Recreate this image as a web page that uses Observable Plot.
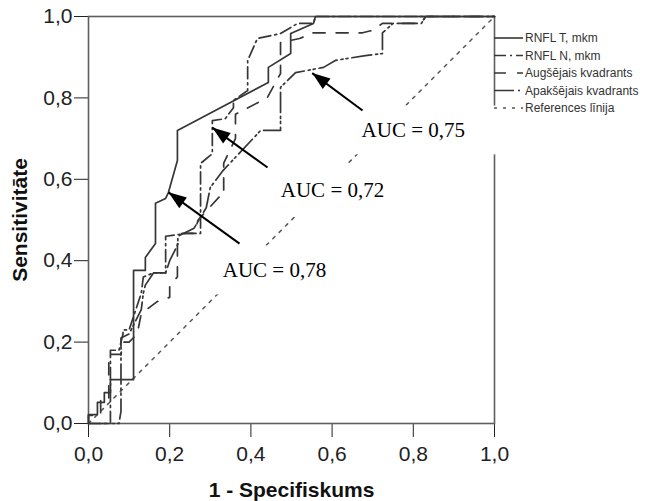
<!DOCTYPE html>
<html><head><meta charset="utf-8">
<script src="https://cdn.jsdelivr.net/npm/d3@7"></script>
<script src="https://cdn.jsdelivr.net/npm/@observablehq/plot@0.6"></script>
<style>
body{margin:0;background:#fff;}
#wrap{position:relative;width:656px;height:501px;}
#legend{position:absolute;left:0;top:0;pointer-events:none;}
</style></head><body><div id="wrap"></div>
<script>
// ---- data ----
const seriesNames = ["RNFL T, mkm", "RNFL N, mkm", "Augšējais kvadrants", "Apakšējais kvadrants", "References līnija"];

// [1 - specificity, sensitivity]
const rnflT = [[0,0],[0,0.022],[0.022,0.022],[0.022,0.052],[0.039,0.052],[0.039,0.076],[0.054,0.076],[0.054,0.108],[0.111,0.108],[0.111,0.376],[0.14,0.376],[0.14,0.408],[0.165,0.442],[0.165,0.541],[0.19,0.553],[0.197,0.568],[0.219,0.646],[0.219,0.72],[0.443,0.838],[0.443,0.875],[0.498,0.909],[0.498,0.958],[0.554,0.983],[0.559,1],[1,1]];
const rnflN = [[0,0],[0.054,0],[0.054,0.18],[0.075,0.18],[0.085,0.22],[0.085,0.23],[0.1,0.23],[0.13,0.32],[0.135,0.36],[0.16,0.37],[0.19,0.37],[0.19,0.46],[0.24,0.467],[0.276,0.467],[0.276,0.639],[0.305,0.663],[0.305,0.744],[0.337,0.749],[0.357,0.776],[0.357,0.794],[0.392,0.818],[0.392,0.892],[0.416,0.946],[0.473,0.958],[0.515,0.983],[0.554,0.983],[0.559,1],[1,1]];
const augs = [[0,0],[0,0.02],[0.03,0.02],[0.03,0.06],[0.05,0.06],[0.05,0.17],[0.08,0.17],[0.085,0.2],[0.1,0.2],[0.12,0.22],[0.13,0.27],[0.17,0.3],[0.2,0.31],[0.2,0.34],[0.219,0.36],[0.219,0.45],[0.23,0.467],[0.26,0.467],[0.27,0.5],[0.325,0.56],[0.333,0.56],[0.333,0.64],[0.362,0.7],[0.362,0.76],[0.44,0.8],[0.473,0.86],[0.473,0.936],[0.52,0.946],[0.554,0.96],[0.675,0.96],[0.7,0.966],[0.724,0.983],[0.82,0.983],[0.83,1],[1,1]];
const apaks = [[0,0],[0.075,0],[0.08,0.03],[0.08,0.21],[0.1,0.22],[0.13,0.28],[0.135,0.32],[0.14,0.34],[0.16,0.37],[0.19,0.37],[0.2,0.4],[0.22,0.44],[0.22,0.46],[0.26,0.48],[0.29,0.53],[0.3,0.58],[0.33,0.62],[0.424,0.72],[0.473,0.72],[0.473,0.826],[0.51,0.862],[0.579,0.875],[0.608,0.892],[0.682,0.904],[0.724,0.909],[0.724,0.96],[0.75,0.983],[0.82,0.983],[0.83,1],[1,1]];
const reference = [[0,0],[1,1]];

const xTicks = [0, 0.2, 0.4, 0.6, 0.8, 1.0];
const yTicks = [0, 0.2, 0.4, 0.6, 0.8, 1.0];
const xTitle = "1 - Specifiskums";
const yTitle = "Sensitivitāte";

const aucLabels = ["AUC = 0,78", "AUC = 0,72", "AUC = 0,75"];
const aucTextX = [0.458, 0.601, 0.80];
const aucTextY = [0.376, 0.572, 0.72];
const arrowFromX = [0.372, 0.441, 0.675];
const arrowFromY = [0.442, 0.629, 0.769];
const arrowToX = [0.197, 0.305, 0.551];
const arrowToY = [0.568, 0.727, 0.861];

// ---- layout ----
const W = 656, H = 501;
const mL = 88, mR = 162, mT = 16, mB = 78;
const pw = W - mL - mR, ph = H - mT - mB;

const lineColor = "#363636";
const styles = [
  {dash: null},
  {dash: "12,4,2,4"},
  {dash: "12,11"},
  {dash: "20,4,2,3,2,4"},
  {dash: "3,6"}
];
const series = [rnflT, rnflN, augs, apaks];

const idx = aucLabels.map((_, i) => i);
const boxL = -0.17, boxR = 0.22, boxH = 0.06;
const angles = idx.map(i => {
  const dx = (arrowToX[i] - arrowFromX[i]) * pw;
  const dy = -(arrowToY[i] - arrowFromY[i]) * ph;
  return Math.atan2(dx, -dy) * 180 / Math.PI;
});
const headSymbol = {draw(ctx) { ctx.moveTo(0, 0); ctx.lineTo(-6.5, 18); ctx.lineTo(6.5, 18); ctx.closePath(); }};

const fmt = d => d.toFixed(1).replace(".", ",");

const marks = [
  Plot.frame({stroke: "#5e5e5e", strokeWidth: 1.6}),
  Plot.line(reference, {x: d => d[0], y: d => d[1], stroke: "#555", strokeWidth: 1.5, strokeDasharray: styles[4].dash})
];
series.forEach((s, k) => {
  marks.push(Plot.line(s, {x: d => d[0], y: d => d[1], stroke: lineColor, strokeWidth: 1.7, strokeDasharray: styles[k].dash}));
});
marks.push(
  Plot.rect(idx, {x1: i => aucTextX[i] + boxL, x2: i => aucTextX[i] + boxR, y1: i => aucTextY[i] - boxH, y2: i => aucTextY[i] + boxH, fill: "white"}),
  Plot.text(idx, {x: i => aucTextX[i], y: i => aucTextY[i], text: i => aucLabels[i], fontFamily: "Liberation Serif, Times New Roman, serif", fontSize: 21, fill: "black"}),
  Plot.link(idx, {x1: i => arrowFromX[i], y1: i => arrowFromY[i], x2: i => arrowToX[i], y2: i => arrowToY[i], stroke: "black", strokeWidth: 2}),
  Plot.dot(idx, {x: i => arrowToX[i], y: i => arrowToY[i], symbol: headSymbol, rotate: i => angles[i], fill: "black", stroke: "none", r: 5}),
  Plot.text([xTitle], {frameAnchor: "bottom", dy: 67, lineAnchor: "middle", textAnchor: "middle", text: d => d, fontWeight: "bold", fontSize: 21, fill: "#111"}),
  Plot.text([yTitle], {frameAnchor: "left", dx: -68, rotate: -90, textAnchor: "middle", lineAnchor: "middle", text: d => d, fontWeight: "bold", fontSize: 21, fill: "#111"})
);

const plot = Plot.plot({
  width: W, height: H,
  marginLeft: mL, marginRight: mR, marginTop: mT, marginBottom: mB,
  style: {fontFamily: "Liberation Sans, Arial, sans-serif", fontSize: "21px", color: "#222", background: "white"},
  x: {domain: [0, 1], ticks: xTicks, tickFormat: fmt, tickSize: 14, tickPadding: 9, label: null},
  y: {domain: [0, 1], ticks: yTicks, tickFormat: fmt, tickSize: 14, tickPadding: 2, label: null},
  marks
});
document.getElementById("wrap").appendChild(plot);

// legend (beside the frame's right edge)
const leg = d3.select("#wrap").append("svg").attr("id", "legend").attr("width", W).attr("height", 130);
const legX = mL + pw, legY0 = 38, legStep = 17.5;
seriesNames.forEach((name, k) => {
  const y = legY0 + k * legStep;
  leg.append("line").attr("x1", legX).attr("x2", legX + 29).attr("y1", y).attr("y2", y)
    .attr("stroke", k === 4 ? "#555" : lineColor).attr("stroke-width", 1.6)
    .attr("stroke-dasharray", styles[k].dash);
  leg.append("text").attr("x", legX + 31).attr("y", y + 1).attr("dominant-baseline", "middle")
    .attr("font-family", "Liberation Sans, Arial, sans-serif").attr("font-size", 12).attr("fill", "#333")
    .text(name);
});
</script></body></html>
